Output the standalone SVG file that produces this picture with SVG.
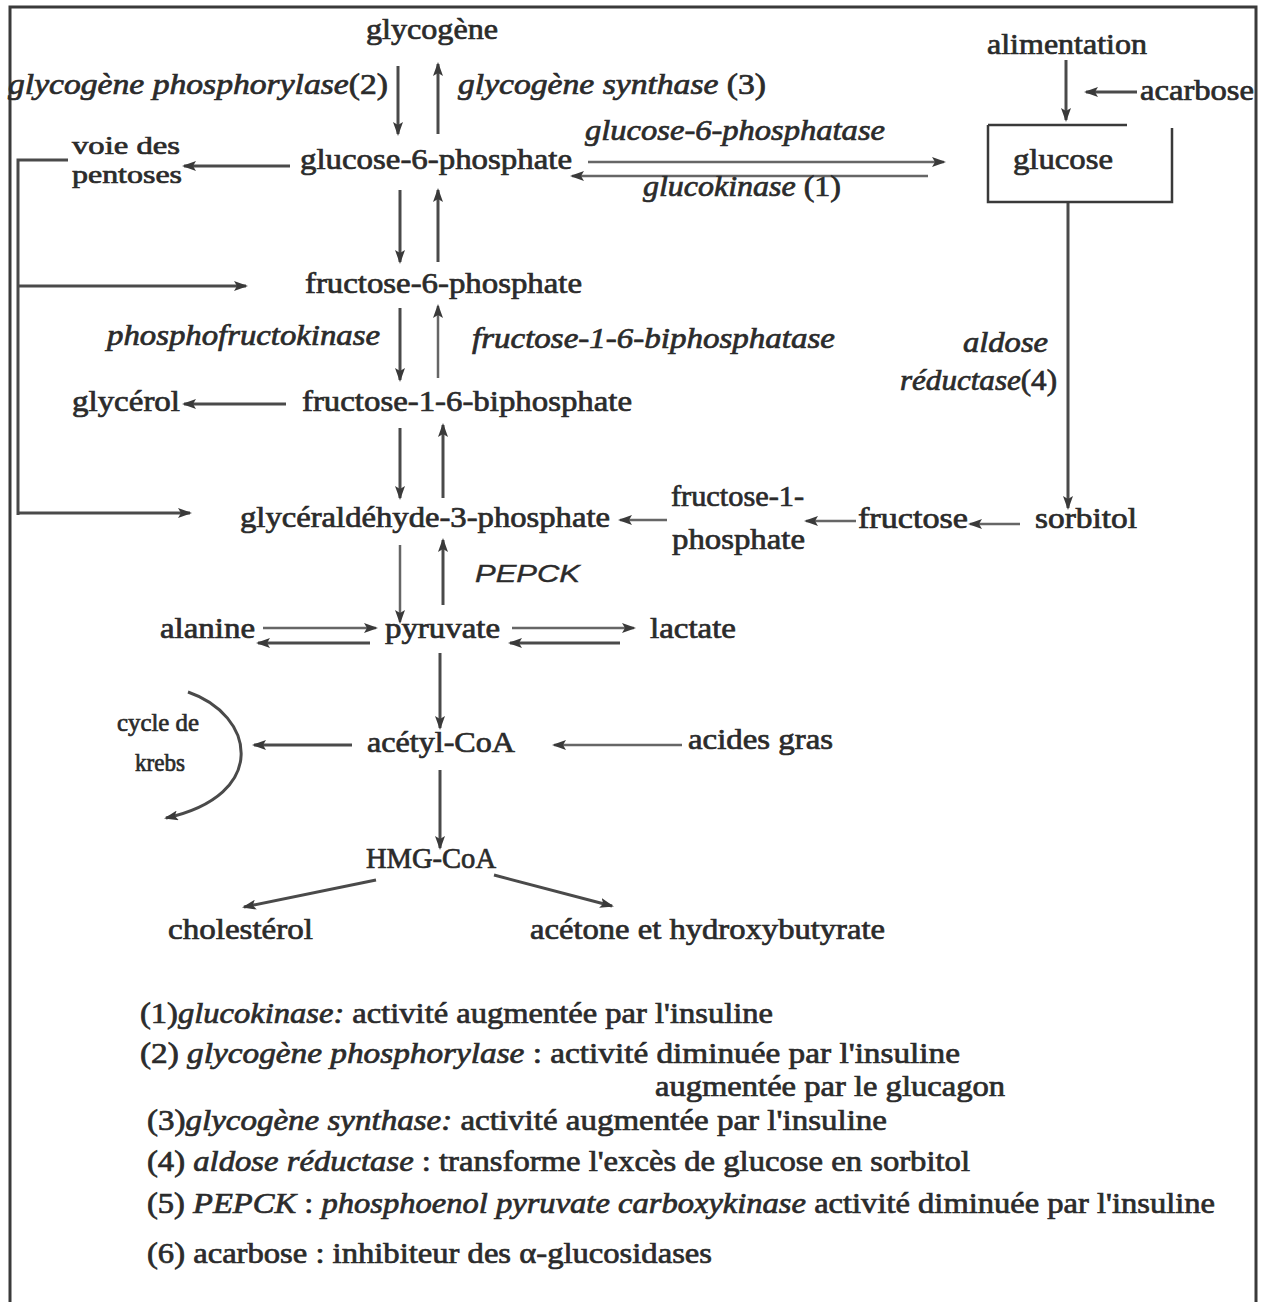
<svg xmlns="http://www.w3.org/2000/svg" width="1268" height="1302" viewBox="0 0 1268 1302">
<style>
text{font-family:"Liberation Serif","Times New Roman",serif;font-size:29px;fill:#2b2b2b;stroke:#2b2b2b;stroke-width:0.7}
.i{font-style:italic}
.sm{font-size:25px}
.s{font-family:"Liberation Sans",Arial,sans-serif;font-style:italic;font-size:24px;stroke-width:0.4}
.ln{stroke:#4a4a4a;stroke-width:3;fill:none}
.lt{stroke:#666;stroke-width:2.5;fill:none}
.ar{marker-end:url(#ah)}
</style>
<defs>
<marker id="ah" viewBox="0 0 14 10" refX="12" refY="5" markerWidth="14" markerHeight="10" markerUnits="userSpaceOnUse" orient="auto">
<path d="M0,0 L14,5 L0,10 L3,5 Z" fill="#3a3a3a"/>
</marker>
</defs>
<rect width="1268" height="1302" fill="#fff"/>
<g id="frame"><path d="M10,1302 V7 H1256 V1302" stroke="#3a3a3a" stroke-width="3" fill="none"/></g>

<g id="connectors">
<line class="ln ar" x1="398" y1="66" x2="398" y2="134"/>
<line class="ln ar" x1="438" y1="134" x2="438" y2="64"/>
<line class="ln ar" x1="290" y1="166" x2="184" y2="166"/>
<line class="lt ar" x1="588" y1="162" x2="944" y2="162"/>
<line class="lt ar" x1="928" y1="176" x2="572" y2="176"/>
<line class="ln ar" x1="1066" y1="60" x2="1066" y2="120"/>
<line class="ln ar" x1="1137" y1="92" x2="1086" y2="92"/>
<line class="ln ar" x1="400" y1="190" x2="400" y2="262"/>
<line class="ln ar" x1="438" y1="262" x2="438" y2="190"/>
<path class="ln" d="M68,160 H18 V515"/>
<line class="ln ar" x1="18" y1="286" x2="246" y2="286"/>
<line class="ln ar" x1="18" y1="513" x2="190" y2="513"/>
<line class="ln ar" x1="400" y1="308" x2="400" y2="380"/>
<line class="lt ar" x1="438" y1="378" x2="438" y2="306"/>
<line class="ln ar" x1="286" y1="404" x2="184" y2="404"/>
<line class="ln ar" x1="400" y1="428" x2="400" y2="498"/>
<line class="ln ar" x1="443" y1="498" x2="443" y2="425"/>
<line class="ln ar" x1="1068" y1="202" x2="1068" y2="508"/>
<line class="lt ar" x1="667" y1="520" x2="620" y2="520"/>
<line class="lt ar" x1="856" y1="521" x2="806" y2="521"/>
<line class="lt ar" x1="1020" y1="524" x2="970" y2="524"/>
<line class="lt ar" x1="400" y1="545" x2="400" y2="622"/>
<line class="ln ar" x1="443" y1="605" x2="443" y2="540"/>
<line class="lt ar" x1="263" y1="628" x2="376" y2="628"/>
<line class="ln ar" x1="370" y1="643" x2="258" y2="643"/>
<line class="lt ar" x1="512" y1="628" x2="634" y2="628"/>
<line class="ln ar" x1="620" y1="643" x2="510" y2="643"/>
<line class="ln ar" x1="440" y1="653" x2="440" y2="728"/>
<line class="ln ar" x1="352" y1="745" x2="254" y2="745"/>
<line class="lt ar" x1="682" y1="745" x2="554" y2="745"/>
<path class="ln ar" d="M188,692 C255,715 270,795 166,818"/>
<line class="ln ar" x1="440" y1="770" x2="440" y2="848"/>
<line class="ln ar" x1="376" y1="880" x2="244" y2="907"/>
<line class="ln ar" x1="494" y1="875" x2="612" y2="906"/>
</g>

<g id="n-glycogene"><text x="366" y="39" textLength="132" lengthAdjust="spacingAndGlyphs">glycogène</text></g>
<g id="l-phosphorylase"><text x="8" y="94" textLength="380" lengthAdjust="spacingAndGlyphs"><tspan class="i">glycogène  phosphorylase</tspan>(2)</text></g>
<g id="l-synthase"><text x="458" y="94" textLength="308" lengthAdjust="spacingAndGlyphs"><tspan class="i">glycogène  synthase</tspan> (3)</text></g>
<g id="n-g6p"><text x="300" y="169" textLength="272" lengthAdjust="spacingAndGlyphs">glucose-6-phosphate</text></g>
<g id="n-pentoses"><text class="sm" x="72" y="154" textLength="108" lengthAdjust="spacingAndGlyphs">voie des</text><text class="sm" x="72" y="183" textLength="110" lengthAdjust="spacingAndGlyphs">pentoses</text></g>
<g id="l-g6pase"><text class="i" x="585" y="140" textLength="300" lengthAdjust="spacingAndGlyphs">glucose-6-phosphatase</text></g>
<g id="l-glucokinase"><text x="643" y="196" textLength="198" lengthAdjust="spacingAndGlyphs"><tspan class="i">glucokinase</tspan> (1)</text></g>
<g id="n-alimentation"><text x="987" y="54" textLength="160" lengthAdjust="spacingAndGlyphs">alimentation</text></g>
<g id="n-acarbose"><text x="1140" y="100" textLength="114" lengthAdjust="spacingAndGlyphs">acarbose</text></g>
<g id="n-glucose"><path d="M988,125 H1127 M988,125 V202 H1172 V128" stroke="#3a3a3a" stroke-width="2.5" fill="none"/><text x="1013" y="169" textLength="100" lengthAdjust="spacingAndGlyphs">glucose</text></g>
<g id="n-f6p"><text x="305" y="293" textLength="277" lengthAdjust="spacingAndGlyphs">fructose-6-phosphate</text></g>
<g id="l-pfk"><text class="i" x="107" y="345" textLength="273" lengthAdjust="spacingAndGlyphs">phosphofructokinase</text></g>
<g id="l-fbpase"><text class="i" x="472" y="348" textLength="363" lengthAdjust="spacingAndGlyphs">fructose-1-6-biphosphatase</text></g>
<g id="n-glycerol"><text x="72" y="411" textLength="108" lengthAdjust="spacingAndGlyphs">glycérol</text></g>
<g id="n-f16bp"><text x="302" y="411" textLength="330" lengthAdjust="spacingAndGlyphs">fructose-1-6-biphosphate</text></g>
<g id="l-aldose"><text class="i" x="963" y="352" textLength="85" lengthAdjust="spacingAndGlyphs">aldose</text><text x="900" y="390" textLength="157" lengthAdjust="spacingAndGlyphs"><tspan class="i">réductase</tspan>(4)</text></g>
<g id="n-g3p"><text x="240" y="527" textLength="370" lengthAdjust="spacingAndGlyphs">glycéraldéhyde-3-phosphate</text></g>
<g id="n-f1p"><text x="671" y="506" textLength="133" lengthAdjust="spacingAndGlyphs">fructose-1-</text><text x="672" y="549" textLength="133" lengthAdjust="spacingAndGlyphs">phosphate</text></g>
<g id="n-fructose"><text x="858" y="528" textLength="110" lengthAdjust="spacingAndGlyphs">fructose</text></g>
<g id="n-sorbitol"><text x="1035" y="528" textLength="102" lengthAdjust="spacingAndGlyphs">sorbitol</text></g>
<g id="l-pepck"><text class="s" x="475" y="582" textLength="105" lengthAdjust="spacingAndGlyphs">PEPCK</text></g>
<g id="n-alanine"><text x="160" y="638" textLength="95" lengthAdjust="spacingAndGlyphs">alanine</text></g>
<g id="n-pyruvate"><text x="385" y="638" textLength="115" lengthAdjust="spacingAndGlyphs">pyruvate</text></g>
<g id="n-lactate"><text x="650" y="638" textLength="86" lengthAdjust="spacingAndGlyphs">lactate</text></g>
<g id="n-krebs"><text class="sm" x="117" y="731" textLength="82" lengthAdjust="spacingAndGlyphs">cycle de</text><text class="sm" x="135" y="771" textLength="50" lengthAdjust="spacingAndGlyphs">krebs</text></g>
<g id="n-acetylcoa"><text x="367" y="752" textLength="148" lengthAdjust="spacingAndGlyphs">acétyl-CoA</text></g>
<g id="n-acidesgras"><text x="688" y="749" textLength="145" lengthAdjust="spacingAndGlyphs">acides gras</text></g>
<g id="n-hmgcoa"><text x="366" y="868" textLength="130" lengthAdjust="spacingAndGlyphs">HMG-CoA</text></g>
<g id="n-cholesterol"><text x="168" y="939" textLength="145" lengthAdjust="spacingAndGlyphs">cholestérol</text></g>
<g id="n-acetone"><text x="530" y="939" textLength="355" lengthAdjust="spacingAndGlyphs">acétone et hydroxybutyrate</text></g>

<g id="legend">
<text x="140" y="1023" textLength="633" lengthAdjust="spacingAndGlyphs">(1)<tspan class="i">glucokinase:</tspan> activité augmentée par l'insuline</text>
<text x="140" y="1063" textLength="820" lengthAdjust="spacingAndGlyphs">(2) <tspan class="i">glycogène phosphorylase</tspan> : activité diminuée par l'insuline</text>
<text x="655" y="1096" textLength="350" lengthAdjust="spacingAndGlyphs">augmentée par le glucagon</text>
<text x="147" y="1130" textLength="740" lengthAdjust="spacingAndGlyphs">(3)<tspan class="i">glycogène synthase:</tspan>  activité augmentée par l'insuline</text>
<text x="147" y="1171" textLength="823" lengthAdjust="spacingAndGlyphs">(4)  <tspan class="i">aldose réductase</tspan> : transforme l'excès de glucose en sorbitol</text>
<text x="147" y="1213" textLength="1068" lengthAdjust="spacingAndGlyphs">(5) <tspan class="i">PEPCK</tspan> : <tspan class="i">phosphoenol pyruvate carboxykinase</tspan> activité diminuée par l'insuline</text>
<text x="147" y="1263" textLength="565" lengthAdjust="spacingAndGlyphs">(6) acarbose : inhibiteur des α-glucosidases</text>
</g>
</svg>
